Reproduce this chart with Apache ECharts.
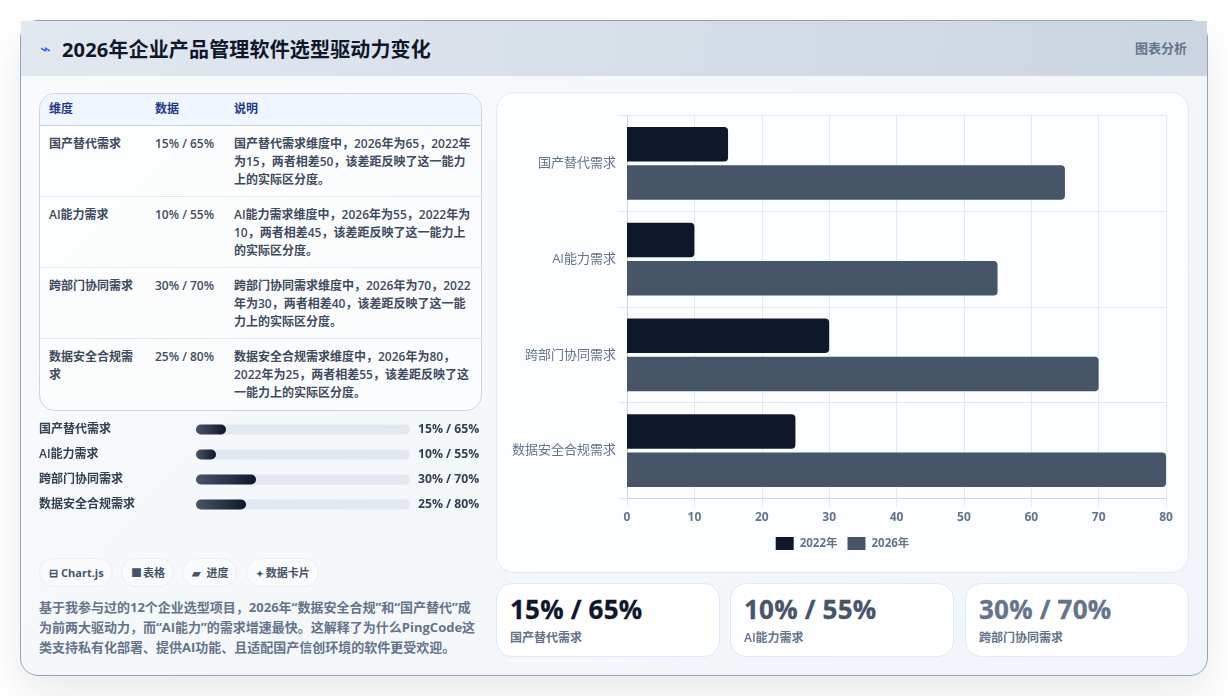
<!DOCTYPE html>
<html lang="zh-CN"><head><meta charset="utf-8"><title>2026年企业产品管理软件选型驱动力变化</title>
<script src="https://cdn.jsdelivr.net/npm/echarts@6/dist/echarts.min.js"></script>
<style>
*{box-sizing:border-box;margin:0;padding:0}
html,body{width:1228px;height:696px;overflow:hidden;background:#fff;font-family:"Open Sans","Noto Sans CJK SC",sans-serif}
.abs{position:absolute}
#card{left:20px;top:20px;width:1188px;height:656px;border:1px solid #94a3b8;border-radius:18px;background:linear-gradient(135deg,#f8fafc,#f1f5f9);box-shadow:0 18px 40px rgba(15,23,42,.09)}
#head{left:21px;top:21px;width:1186px;height:55px;background:linear-gradient(100deg,#e2e8f0,#cbd5e1)}
#icon{left:40px;top:37px;font-size:18px;line-height:24px;color:#2563eb;font-family:"DejaVu Sans"}
#title{left:62px;top:36px;font-size:20px;line-height:28px;font-weight:700;color:#0f172a;white-space:nowrap;letter-spacing:.16px}
#tag{right:41px;top:39px;font-size:13px;line-height:18px;font-weight:700;color:#64748b;white-space:nowrap}
#tbl{left:39px;top:93px;width:443px;height:318px;border:1px solid #cbd5e1;border-radius:16px;overflow:hidden;background:rgba(255,255,255,.6)}
table{border-collapse:collapse;width:441px;table-layout:fixed;font-size:12px;line-height:18px;font-weight:600;color:#3f4b5f}
th{height:31px;background:#eff6ff;color:#1e3a8a;text-align:left;font-weight:700;padding:0 9px;border-bottom:1px solid #cbd5e1}
td{height:71px;vertical-align:top;padding:9px 9px 7px;border-bottom:1px solid #e2e8f0}
tr:last-child td{border-bottom:0}
#prog{left:39px;top:417px;width:443px;height:100px}
#chips{left:39px;top:558px;display:flex;gap:8.4px}
.chip{height:29px;line-height:27px;padding:0 8px 0 9px;border:1px solid #e8eef5;border-radius:15px;background:#f8fafc;font-size:11px;font-weight:700;color:#475569;white-space:nowrap}
.chip i{font-style:normal;font-size:11px;display:inline-block;width:12px}
.chip:nth-child(3) i{width:14px}
.chip:nth-child(4) i{width:10px;font-size:9px}
#note{left:39px;top:597px;font-size:13px;line-height:20px;font-weight:700;color:#64748b;white-space:nowrap}
#panel{left:496px;top:92px;width:693px;height:481px;border:1px solid #e2e8f0;border-radius:18px;background:#fbfdff}
#main{left:496px;top:92px;width:693px;height:481px}
.stat{top:583px;width:224px;height:74px;border:1px solid #dbeafe;border-radius:16px;background:#fff;padding:8px 13px}
.val{font-size:26px;line-height:34px;font-weight:700;white-space:nowrap;letter-spacing:.2px;-webkit-text-stroke:.3px currentColor}
.lab{font-size:12px;line-height:18px;font-weight:600;color:#64748b;margin-top:3px}
</style></head><body>
<div id="card" class="abs"></div><div id="head" class="abs"></div>
<div id="icon" class="abs">⌁</div>
<div id="title" class="abs">2026年企业产品管理软件选型驱动力变化</div>
<div id="tag" class="abs">图表分析</div>
<div id="tbl" class="abs"></div>
<div id="prog" class="abs"></div>
<div id="chips" class="abs"></div>
<div id="note" class="abs"></div>
<div id="panel" class="abs"></div><div id="main" class="abs"></div>
<div id="stats"></div>
<script>
const categories=["国产替代需求","AI能力需求","跨部门协同需求","数据安全合规需求"];
const values2022=[15,10,30,25];
const values2026=[65,55,70,80];
const seriesNames=["2022年","2026年"];
const tableHead=["维度","数据","说明"];
const notes=[
"国产替代需求维度中，2026年为65，2022年为15，两者相差50，该差距反映了这一能力上的实际区分度。",
"AI能力需求维度中，2026年为55，2022年为10，两者相差45，该差距反映了这一能力上的实际区分度。",
"跨部门协同需求维度中，2026年为70，2022年为30，两者相差40，该差距反映了这一能力上的实际区分度。",
"数据安全合规需求维度中，2026年为80，2022年为25，两者相差55，该差距反映了这一能力上的实际区分度。"];
const chipIcons=["⊟","■","▰","✦"];
const chipTexts=["Chart.js","表格","进度","数据卡片"];
const noteLines=["基于我参与过的12个企业选型项目，2026年“数据安全合规”和“国产替代”成","为前两大驱动力，而“AI能力”的需求增速最快。这解释了为什么PingCode这","类支持私有化部署、提供AI功能、且适配国产信创环境的软件更受欢迎。"];
const statColors=["#0f172a","#475569","#64748b"];
const pairs=categories.map((c,i)=>values2022[i]+"% / "+values2026[i]+"%");

document.getElementById('tbl').innerHTML='<table><colgroup><col style="width:106px"><col style="width:79px"><col></colgroup><tr>'+tableHead.map(h=>'<th>'+h+'</th>').join('')+'</tr>'+
 categories.map((c,i)=>'<tr><td>'+c+'</td><td>'+pairs[i]+'</td><td>'+notes[i]+'</td></tr>').join('')+'</table>';
document.getElementById('chips').innerHTML=chipTexts.map((c,i)=>'<div class="chip"><i>'+chipIcons[i]+'</i>'+c+'</div>').join('');
document.getElementById('note').innerHTML=noteLines.join('<br>');
const statLeft=[496,730,965];
document.getElementById('stats').innerHTML=[0,1,2].map(i=>'<div class="abs stat" style="left:'+statLeft[i]+'px"><div class="val" style="color:'+statColors[i]+'">'+pairs[i]+'</div><div class="lab">'+categories[i]+'</div></div>').join('');

const FONT='"Open Sans","Noto Sans CJK SC",sans-serif';
const prog=echarts.init(document.getElementById('prog'),null,{renderer:'canvas'});
prog.setOption({animation:false,
 grid:{left:157,right:72,top:0,bottom:0,outerBoundsMode:'none'},
 xAxis:{type:'value',min:0,max:107,show:false},
 yAxis:[
  {type:'category',inverse:true,data:categories,axisLine:{show:false},axisTick:{show:false},
   axisLabel:{margin:157,align:'left',padding:[2,0,0,0],fontFamily:FONT,fontSize:12,fontWeight:600,color:'#334155'}},
  {type:'category',inverse:true,position:'right',data:pairs,axisLine:{show:false},axisTick:{show:false},
   axisLabel:{margin:8,align:'left',padding:[1,0,0,0],fontFamily:FONT,fontSize:12.2,fontWeight:700,color:'#334155'}}],
 series:[{type:'bar',data:values2022,barWidth:10,showBackground:true,
  backgroundStyle:{color:'#e2e8f0',borderRadius:5},
  itemStyle:{borderRadius:5,color:new echarts.graphic.LinearGradient(0,0,1,0,[{offset:0,color:'#475569'},{offset:1,color:'#0f172a'}])}}]
});

const main=echarts.init(document.getElementById('main'),null,{renderer:'canvas'});
const grid='#e2e8f0';
main.setOption({animation:false,
 grid:{left:131,right:23,top:23.6,bottom:74.6,outerBoundsMode:'none'},
 legend:{top:440,left:'center',itemWidth:18,itemHeight:13,itemGap:10,icon:'rect',
  textStyle:{fontFamily:FONT,fontSize:11.5,fontWeight:700,color:'#64748b',padding:[0,0,0,1]}},
 xAxis:{type:'value',min:0,max:80,interval:10,
  axisLine:{show:true,lineStyle:{color:'#cbd5e1'}},
  axisTick:{show:true,length:8,lineStyle:{color:grid}},
  splitLine:{show:true,lineStyle:{color:grid}},
  axisLabel:{margin:13,fontFamily:FONT,fontSize:12,fontWeight:700,color:'#64748b'}},
 yAxis:{type:'category',inverse:true,data:categories,
  axisLine:{show:true,lineStyle:{color:'#cbd5e1'}},
  axisTick:{show:true,length:8,lineStyle:{color:grid}},
  splitLine:{show:true,lineStyle:{color:grid}},
  axisLabel:{margin:11,padding:[0,0,1,0],fontFamily:FONT,fontSize:13,color:'#64748b'}},
 series:[
  {name:seriesNames[0],type:'bar',data:values2022,barWidth:34.5,barGap:'11%',itemStyle:{color:'#0f172a',borderRadius:[0,4,4,0]}},
  {name:seriesNames[1],type:'bar',data:values2026,barWidth:34.5,itemStyle:{color:'#475569',borderRadius:[0,4,4,0]}}]
});
</script></body></html>
